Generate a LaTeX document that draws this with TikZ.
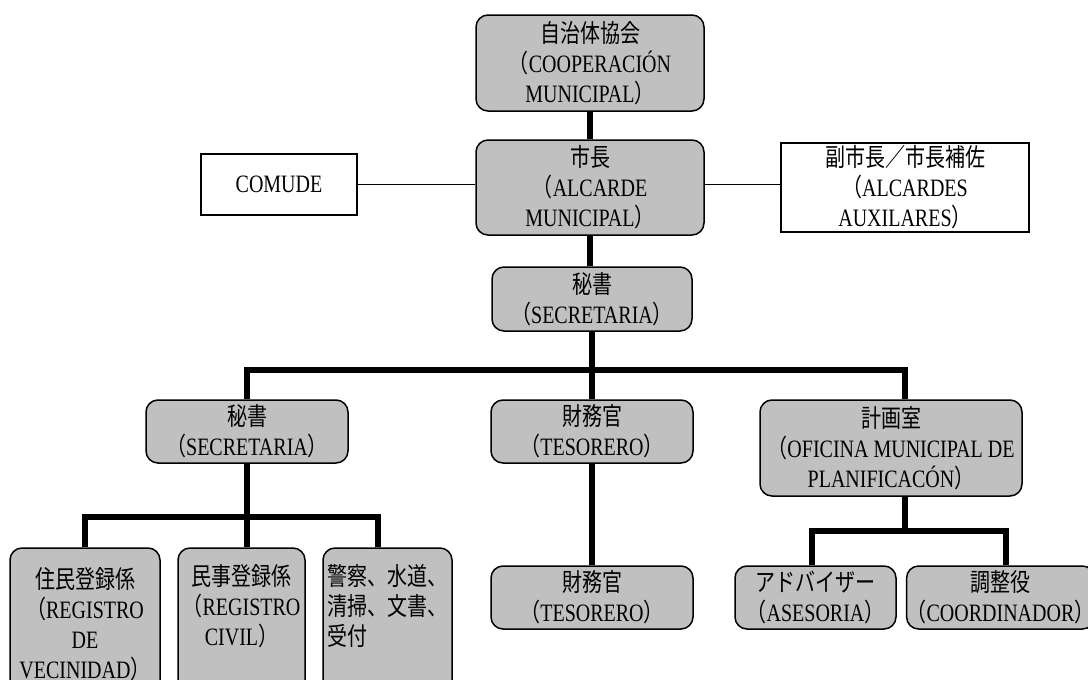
\documentclass[tikz,border=0pt]{standalone}
\usepackage{fontspec}
\setmainfont{Liberation Serif}[FakeStretch=0.8]
\newfontfamily\cjkfont{Noto Sans CJK JP}[FakeStretch=0.8]
\newcommand\jp[1]{{\cjkfont #1}}
\definecolor{boxgray}{RGB}{192,192,192}
\tikzset{
  rbox/.style={draw, line width=1.5pt, fill=boxgray, rounded corners=12pt, align=center, inner sep=0pt,
    font=\fontsize{25}{30}\selectfont},
  sbox/.style={draw, line width=1.5pt, fill=white, align=center, inner sep=0pt,
    font=\fontsize{25}{30}\selectfont},
  conn/.style={line width=6pt, line join=miter},
  thinconn/.style={line width=1.5pt}
}
\begin{document}
\begin{tikzpicture}[x=1pt,y=-1pt]
\clip (0,0) rectangle (1088,680);
\fill[white] (0,0) rectangle (1088,680);

% nodes
\node[rbox, minimum width=228, minimum height=96] (coop) at (590,63)
  {\jp{自治体協会}\\\jp{（}COOPERACIÓN\\MUNICIPAL\jp{）}};
\node[rbox, minimum width=228, minimum height=95] (mayor) at (590,187.5)
  {\jp{市長}\\\jp{（}ALCARDE\\MUNICIPAL\jp{）}};
\node[sbox, minimum width=156, minimum height=61] (comude) at (279,184.5) {COMUDE};
\node[sbox, minimum width=248, minimum height=89] (aux) at (905,187.5)
  {\jp{副市長／市長補佐}\\\jp{（}ALCARDES\\AUXILARES\jp{）}};
\node[rbox, minimum width=200, minimum height=64] (sec) at (592,299)
  {\jp{秘書}\\\jp{（}SECRETARIA\jp{）}};
\node[rbox, minimum width=202, minimum height=63] (secL) at (247,431.5)
  {\jp{秘書}\\\jp{（}SECRETARIA\jp{）}};
\node[rbox, minimum width=202, minimum height=63] (tes) at (592,431.5)
  {\jp{財務官}\\\jp{（}TESORERO\jp{）}};
\node[rbox, minimum width=262, minimum height=96] (plan) at (891,448)
  {\jp{計画室}\\\jp{（}OFICINA MUNICIPAL DE\\PLANIFICACÓN\jp{）}};
\node[rbox, minimum width=202, minimum height=63] (tes2) at (592,597.5)
  {\jp{財務官}\\\jp{（}TESORERO\jp{）}};
\node[rbox, minimum width=161, minimum height=63] (ases) at (815.5,597.5)
  {\jp{アドバイザー}\\\jp{（}ASESORIA\jp{）}};
\node[rbox, minimum width=173, minimum height=63] (coord) at (1000.5,597.5)
  {\jp{調整役}\\\jp{（}COORDINADOR\jp{）}};
\node[rbox, minimum width=150, minimum height=152] (reg1) at (85,624)
  {\jp{住民登録係}\\\jp{（}REGISTRO\\DE\\VECINIDAD\jp{）}};
\node[rbox, minimum width=127, minimum height=152] (reg2) at (241.5,624)
  {\jp{民事登録係}\\\jp{（}REGISTRO\\CIVIL\jp{）}\\\strut};
\node[rbox, minimum width=129, minimum height=152, align=left] (pol) at (387.5,624)
  {\jp{警察、水道、}\\\jp{清掃、文書、}\\\jp{受付}\\\strut};

% helper coordinates
\coordinate (busA) at (592,370);
\coordinate (busB) at (248,517);
\coordinate (busC) at (905,531);
\coordinate (planTop) at ([xshift=14pt]plan.north);
\coordinate (polTop) at ([xshift=-9.5pt]pol.north);
\coordinate (asesTop) at ([xshift=-3.5pt]ases.north);
\coordinate (coordTop) at ([xshift=5.5pt]coord.north);

% connectors
\draw[conn] (coop.south) -- (mayor.north);
\draw[conn] (mayor.south) -- (mayor.south |- sec.north);
\draw[conn] (sec.south) -- (tes.north);
\draw[conn] (secL.north) -- (secL.north |- busA) -- (busA -| planTop) -- (planTop);
\draw[conn] (tes.south) -- (tes2.north);
\draw[conn] (secL.south) -- (secL.south |- reg2.north);
\draw[conn] (reg1.north) -- (reg1.north |- busB) -- (busB -| polTop) -- (polTop);
\draw[conn] (planTop |- plan.south) -- (planTop |- busC);
\draw[conn] (asesTop) -- (asesTop |- busC) -- (coordTop |- busC) -- (coordTop);
\draw[thinconn] (comude.east) -- (comude.east -| mayor.west);
\draw[thinconn] (mayor.east |- comude.east) -- (aux.west |- comude.east);
\end{tikzpicture}
\end{document}
